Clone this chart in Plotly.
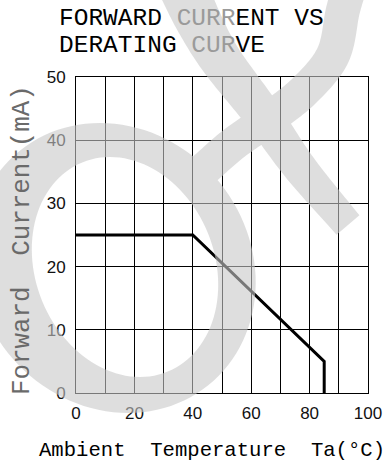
import numpy as np
import plotly.graph_objects as go

# ---------------- data ----------------
temperature = [0, 40, 85, 85]          # Ta (°C)
forward_current = [25, 25, 5, 0]       # IF (mA)
x_ticks = [0, 10, 20, 30, 40, 50, 60, 70, 80, 90, 100]
x_tick_text = ["0", "", "20", "", "40", "", "60", "", "80", "", "100"]
y_ticks = [0, 10, 20, 30, 40, 50]
y_tick_text = ["0", "10", "20", "30", "40", "50"]

# ---------------- layout geometry (pixels) ----------------
W, H = 390, 475
L, R, T, B = 76, 22, 77, 82
PW, PH = W - L - R, H - T - B


def px(x, y):
    return (x - L) / PW, (H - B - y) / PH


def catmull(pts, n=16):
    pts = np.asarray(pts, float)
    P = np.vstack([pts[0] * 2 - pts[1], pts, pts[-1] * 2 - pts[-2]])
    out = []
    for i in range(1, len(P) - 2):
        p0, p1, p2, p3 = P[i - 1], P[i], P[i + 1], P[i + 2]
        for t in np.linspace(0, 1, n, endpoint=False):
            t2, t3 = t * t, t * t * t
            out.append(0.5 * ((2 * p1) + (-p0 + p2) * t + (2 * p0 - 5 * p1 + 4 * p2 - p3) * t2
                              + (-p0 + 3 * p1 - 3 * p2 + p3) * t3))
    out.append(P[-2])
    return np.array(out)


def band(center_pts, w_start, w_end):
    c = catmull(center_pts)
    d = np.gradient(c, axis=0)
    d /= np.linalg.norm(d, axis=1)[:, None]
    nrm = np.stack([-d[:, 1], d[:, 0]], axis=1)
    w = np.linspace(w_start, w_end, len(c))[:, None]
    left = c + nrm * w / 2
    right = c - nrm * w / 2
    return np.vstack([left, right[::-1]])


def ellipse(cx, cy, rx, ry, skew, n=120):
    t = np.linspace(0, 2 * np.pi, n, endpoint=False)
    ux, uy = np.cos(t), np.sin(t)
    return np.stack([cx + rx * ux + skew * uy, cy + ry * uy], axis=1)


def area(p):
    x, y = p[:, 0], p[:, 1]
    return 0.5 * np.sum(x * np.roll(y, -1) - np.roll(x, -1) * y)


def orient(p, sign):
    return p if np.sign(area(p)) == sign else p[::-1]


def to_path(p):
    s = ""
    for i, (x, y) in enumerate(p):
        a, b = px(x, y)
        s += ("M" if i == 0 else "L") + f"{a:.4f},{b:.4f} "
    return s + "Z "


outer = orient(ellipse(114, 268, 141, 145, 14), 1)
inner = orient(ellipse(125, 267, 92, 110, 15), -1)
band_a = orient(band([(180, -20), (198, 20), (221, 60), (262, 114), (300, 168),
                      (348, 225)], 50, 30), 1)
band_b = orient(band([(352, -20), (343, 10), (333, 55), (305, 90), (270, 118),
                      (232, 145), (198, 175)], 34, 34), 1)
wm_path = to_path(outer) + to_path(inner) + to_path(band_a) + to_path(band_b)

# ---------------- figure ----------------
fig = go.Figure()
fig.add_trace(go.Scatter(x=temperature, y=forward_current, mode="lines",
                         line=dict(color="black", width=3), hoverinfo="skip",
                         showlegend=False))

axis_common = dict(showgrid=True, gridcolor="black", gridwidth=1, zeroline=False,
                   showline=True, linecolor="black", linewidth=1, mirror=True,
                   automargin=False, ticks="",
                   tickfont=dict(family="Liberation Sans", size=17, color="#111"))
fig.update_xaxes(range=[0, 100], tickmode="array", tickvals=x_ticks, ticktext=x_tick_text,
                 ticklabelstandoff=5, **axis_common)
fig.update_yaxes(range=[0, 50], tickmode="array", tickvals=y_ticks, ticktext=y_tick_text,
                 ticklabelstandoff=6, **axis_common)

mono = "Liberation Mono"
g = '<span style="color:#9a9a9a">'
annotations = [
    dict(text="FORWARD " + g + "CURR</span>ENT VS", x=px(57, 0)[0], y=px(0, 18.5)[1],
         xanchor="left", yanchor="middle", font=dict(family=mono, size=24.5, color="black")),
    dict(text="DERATING " + g + "CUR</span>VE", x=px(57, 0)[0], y=px(0, 46)[1],
         xanchor="left", yanchor="middle", font=dict(family=mono, size=24.5, color="black")),
    dict(text="Forward  Current(mA)", x=px(22, 0)[0], y=px(0, 240)[1], textangle=-90,
         xanchor="center", yanchor="middle", font=dict(family=mono, size=25.8, color="#6a6a6a")),
    dict(text="Ambient  Temperature  Ta(°C)", x=px(212, 0)[0], y=px(0, 450)[1],
         xanchor="center", yanchor="middle", font=dict(family=mono, size=20.6, color="black")),
]
for a in annotations:
    a.update(xref="paper", yref="paper", showarrow=False)

fig.update_layout(
    width=W, height=H, margin=dict(l=L, r=R, t=T, b=B, autoexpand=False),
    paper_bgcolor="white", plot_bgcolor="white",
    annotations=annotations,
    shapes=[dict(type="path", path=wm_path, xref="paper", yref="paper",
                 fillcolor="rgba(200,200,200,0.6)", line=dict(width=0),
                 fillrule="nonzero", layer="above")],
)

fig.write_html("out.html", config={"displayModeBar": False},
               post_script="document.body.style.margin='0px';")
